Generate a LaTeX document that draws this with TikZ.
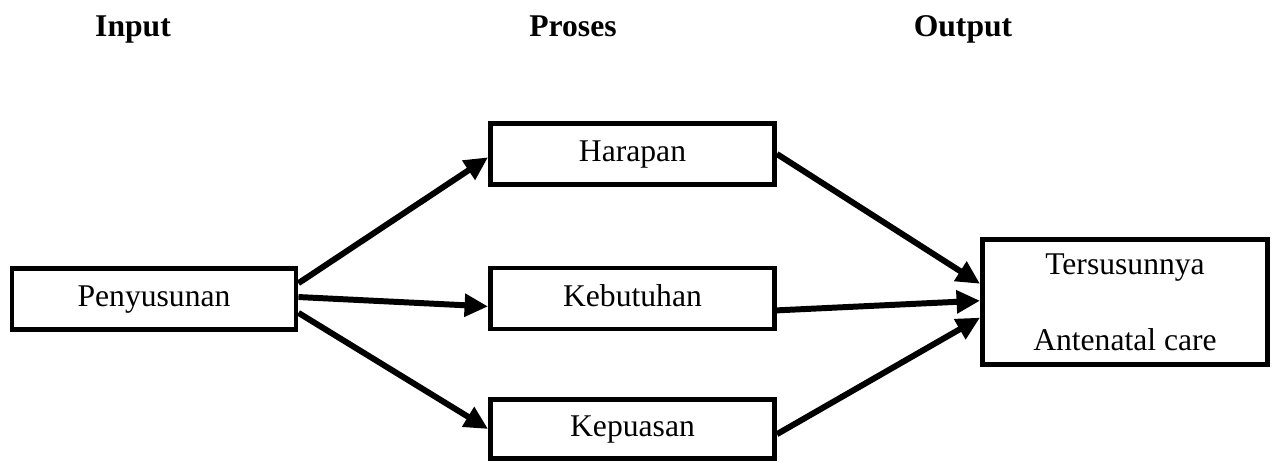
\documentclass[tikz,border=0pt]{standalone}
\usepackage{fontspec}
\setmainfont{Liberation Serif}
\usepackage{tikz}
\usetikzlibrary{calc,arrows.meta}

\begin{document}
\begin{tikzpicture}[x=0.02cm,y=-0.02cm]
            \tikzstyle{every node}=[font=\fontsize{18}{22}\selectfont]
            \tikzstyle{box}=[draw,line width=2.8pt,inner sep=0pt,text height=13pt,text depth=4pt,minimum width=5.68cm,minimum height=1.22cm]
            \tikzstyle{head}=[font=\fontsize{18}{22}\selectfont\bfseries,anchor=base]
            \tikzstyle{arr}=[line width=3.4pt,-{Triangle[length=0.47cm,width=0.44cm]}]
            \useasboundingbox (0,0) rectangle (1275,461);
            \node[head] (in) at (133,36) {Input};
            \node[head] (pr) at (573,36) {Proses};
            \node[head] (out) at (963,36) {Output};
            \node[box] (pen) at (154,299) {Penyusunan};
            \node[box] (har) at (632.5,154) {Harapan};
            \node[box] (keb) at (632.5,298.5) {Kebutuhan};
            \node[box,minimum height=1.19cm] (kep) at (632.5,429) {Kepuasan};
            \node[box,align=center,text height=,text depth=,minimum width=5.7cm,minimum height=2.5cm] (ter) at (1125,302)
                {Tersusunnya\\[0.75cm]Antenatal care};
            \draw[arr] ($(pen.north east)!0.26!(pen.south east)$) -- ($(har.north west)!0.55!(har.south west)$);
            \draw[arr] ($(pen.north east)!0.47!(pen.south east)$) -- ($(keb.north west)!0.62!(keb.south west)$);
            \draw[arr] ($(pen.north east)!0.71!(pen.south east)$) -- (kep.west);
            \draw[arr] (har.east) -- ($(ter.north west)!0.36!(ter.south west)$);
            \draw[arr] ($(keb.north east)!0.68!(keb.south east)$) -- ($(ter.north west)!0.49!(ter.south west)$);
            \draw[arr] ($(kep.north east)!0.58!(kep.south east)$) -- ($(ter.north west)!0.62!(ter.south west)$);
\end{tikzpicture}
\end{document}
